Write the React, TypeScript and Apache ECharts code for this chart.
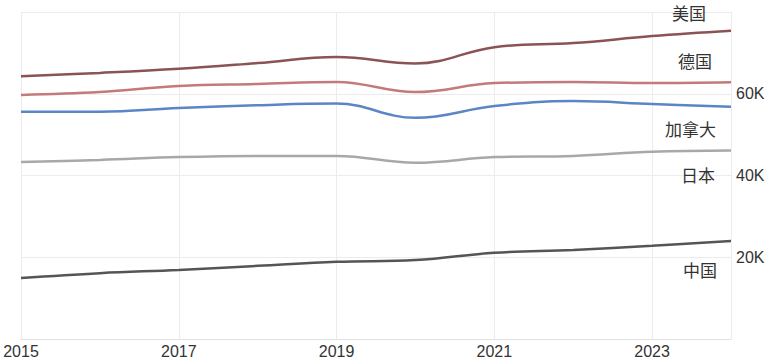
import React, { useEffect, useRef } from "react";
import * as echarts from "echarts";

const years = [2015, 2016, 2017, 2018, 2019, 2020, 2021, 2022, 2023, 2024];
const usa = [64.3, 65.1, 66.1, 67.5, 69.0, 67.4, 71.4, 72.4, 74.1, 75.4];
const germany = [59.7, 60.4, 61.9, 62.4, 62.9, 60.4, 62.6, 62.9, 62.6, 62.8];
const canada = [55.6, 55.6, 56.5, 57.2, 57.6, 54.1, 57.0, 58.2, 57.5, 56.8];
const japan = [43.3, 43.8, 44.5, 44.8, 44.8, 43.1, 44.5, 44.8, 45.8, 46.1];
const china = [14.9, 16.1, 16.9, 17.9, 18.9, 19.3, 21.1, 21.8, 22.8, 24.0];

const seriesDefs = [
  { name: "美国", data: usa, color: "#8b5353", offset: [-33, -18] },
  { name: "德国", data: germany, color: "#c47a7a", offset: [-27, -22] },
  { name: "加拿大", data: canada, color: "#5a86c6", offset: [-23, 22] },
  { name: "日本", data: japan, color: "#a8a8a8", offset: [-24, 24] },
  { name: "中国", data: china, color: "#555555", offset: [-22, 29] },
];

export default function App() {
  const ref = useRef<HTMLDivElement>(null);
  useEffect(() => {
    document.body.style.margin = "0";
    const chart = echarts.init(ref.current!, null, { renderer: "svg" });
    chart.setOption({
      animation: false,
      grid: { left: 21, right: 46, top: 12, bottom: 25, containLabel: false },
      xAxis: {
        type: "value",
        min: 2015,
        max: 2024,
        interval: 2,
        axisLine: { show: true, lineStyle: { color: "#e0e0e0" } },
        axisTick: { show: false },
        axisLabel: {
          showMaxLabel: false,
          margin: 4,
          fontSize: 16,
          color: "#333",
          fontFamily: "Liberation Sans, Arial, sans-serif",
          formatter: (v: number) => String(v),
        },
        splitLine: { show: true, lineStyle: { color: "#ececec" } },
      },
      yAxis: {
        type: "value",
        position: "right",
        min: 0,
        max: 80000,
        interval: 20000,
        axisLine: { show: true, lineStyle: { color: "#ececec" } },
        axisTick: { show: false },
        axisLabel: {
          showMinLabel: false,
          showMaxLabel: false,
          margin: 5,
          fontSize: 16,
          color: "#333",
          fontFamily: "Liberation Sans, Arial, sans-serif",
          formatter: (v: number) => v / 1000 + "K",
        },
        splitLine: { show: true, lineStyle: { color: "#ececec" } },
      },
      series: seriesDefs.map((s) => ({
        name: s.name,
        type: "line",
        smooth: 0.4,
        symbol: "none",
        data: years.map((y, i) => [y, s.data[i] * 1000]),
        lineStyle: { color: s.color, width: 2.5 },
        itemStyle: { color: s.color },
        endLabel: {
          show: true,
          formatter: s.name,
          align: "right",
          verticalAlign: "middle",
          offset: s.offset,
          fontSize: 17,
          color: "#333",
          fontFamily: "Noto Sans CJK SC, sans-serif",
        },
      })),
    });
    return () => chart.dispose();
  }, []);
  return <div ref={ref} style={{ width: 777, height: 364 }} />;
}
